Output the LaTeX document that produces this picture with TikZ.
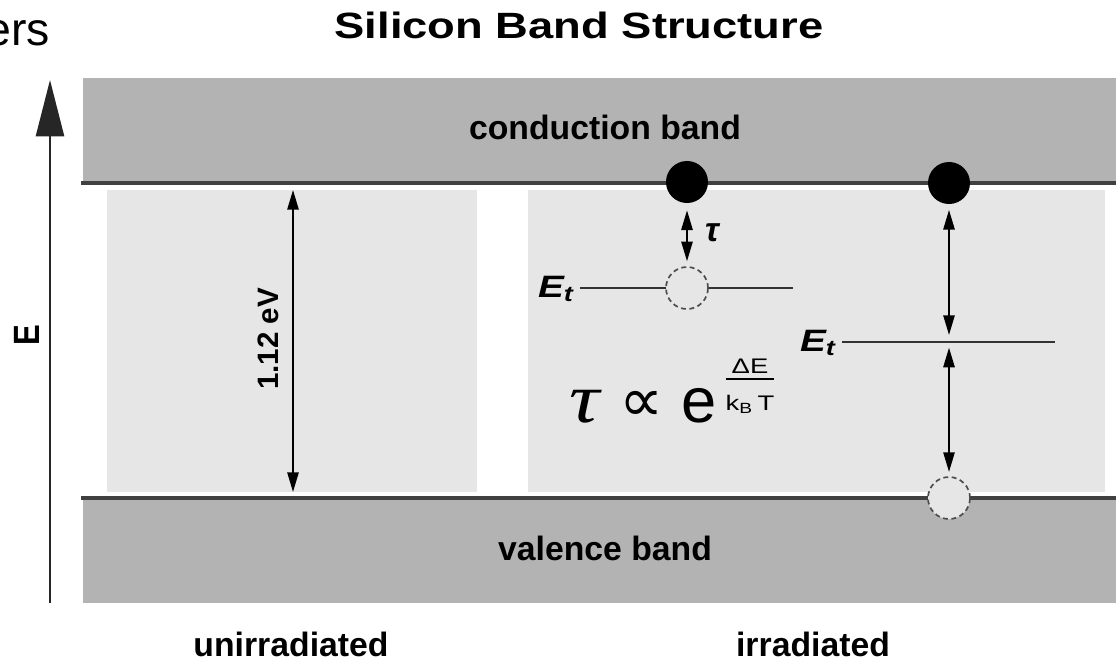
\documentclass[tikz,border=0pt]{standalone}
\usepackage{fontspec}
\setmainfont{Liberation Sans}
\newfontfamily\greekserif{Liberation Serif}
\newfontfamily\symfont{DejaVu Sans}
\definecolor{bandgray}{RGB}{179,179,179}
\definecolor{gapgray}{RGB}{230,230,230}
\definecolor{edgegray}{RGB}{64,64,64}
\usetikzlibrary{arrows.meta}
\tikzset{
  band/.style={fill=bandgray},
  gap/.style={fill=gapgray},
  bandedge/.style={draw=edgegray, line width=2.2pt},
  trapline/.style={draw=black!80, line width=1.1pt},
  electron/.style={circle, fill=black, minimum size=1.05cm, inner sep=0pt},
  hole/.style={circle, draw=black!70, dash pattern=on 3.5pt off 2.5pt, line width=1.2pt,
              fill=gapgray, minimum size=1.05cm, inner sep=0pt},
  hop/.style={{Triangle[length=14pt,width=8pt]}-{Triangle[length=14pt,width=8pt]}, line width=1.4pt},
  axis/.style={-{Triangle[length=40pt,width=20pt]}, line width=1.4pt, black!85},
  lbl/.style={inner sep=0pt, font=\fontsize{24}{28}\selectfont\bfseries},
  trap/.style={inner sep=0pt, font=\fontsize{22}{26}\selectfont\bfseries\itshape},
}

\begin{document}
\begin{tikzpicture}[x=0.025cm, y=-0.025cm]
  \useasboundingbox (0,0) rectangle (1116,664);
  \fill[band] (83,78) rectangle (1116,183);
  \fill[band] (83,498) rectangle (1116,603);
  \fill[gap] (107,190) rectangle (477,492);
  \fill[gap] (528,190) rectangle (1105,492);
  \draw[bandedge] (81,183) -- (1116,183);
  \draw[bandedge] (81,498) -- (1116,498);

  \node[anchor=base east, inner sep=0pt, font=\fontsize{33}{36}\selectfont] (cutoff) at (50,45) {ers};
  \node[lbl, font=\fontsize{26}{30}\selectfont\bfseries, anchor=base] (title) at (579,38) {\scalebox{1.24}[1]{Silicon Band Structure}};
  \node[lbl, anchor=base] (cblbl) at (605,139) {conduction band};
  \node[lbl, anchor=base] (vblbl) at (605,560) {valence band};
  \node[lbl, anchor=base] (unirr) at (291,656) {unirradiated};
  \node[lbl, anchor=base] (irr) at (813,656) {irradiated};

  % energy axis
  \coordinate (Ebot) at (50,603);
  \coordinate (Etop) at (50,80);
  \draw[axis] (Ebot) -- (Etop);
  \node[lbl, font=\fontsize{26}{30}\selectfont\bfseries, rotate=90] (Elbl) at (27,335) {\scalebox{0.85}[1]{E}};

  % band gap
  \coordinate (gaptop) at (293,190);
  \coordinate (gapbot) at (293,492);
  \draw[hop] (gaptop) -- (gapbot);
  \node[lbl, font=\fontsize{21}{25}\selectfont\bfseries, rotate=90] (gaplbl) at (268,339) {1.12 eV};

  % shallow trap
  \coordinate (lvlAw) at (580,288);
  \coordinate (lvlAe) at (793,288);
  \draw[trapline] (lvlAw) -- (lvlAe);
  \node[electron] (eA) at (687,182) {};
  \node[hole] (tA) at (687,288) {};
  \draw[hop, shorten <=5pt, shorten >=3.5pt] (eA) -- (tA);
  \node[trap, anchor=base east] (EtA) at (574,297) {\scalebox{1.25}[1]{E\textsubscript{t}}};
  \node[trap, font=\fontsize{24}{28}\selectfont\bfseries\itshape] (tauA) at (712,233) {τ};

  % deep trap
  \coordinate (lvlBw) at (842,342);
  \coordinate (lvlBe) at (1055,342);
  \draw[trapline] (lvlBw) -- (lvlBe);
  \coordinate (xB) at (949,342);
  \node[electron] (eB) at (949,183) {};
  \node[hole] (hB) at (949,498) {};
  \draw[hop, shorten <=4pt, shorten >=5pt] (eB) -- (xB);
  \draw[hop, shorten <=4pt, shorten >=3pt] (xB) -- (hB);
  \node[trap, anchor=base east] (EtB) at (836,351) {\scalebox{1.25}[1]{E\textsubscript{t}}};

  % emission time
  \node[inner sep=0pt, font=\fontsize{50}{54}\selectfont\greekserif\itshape, anchor=base] (tauB) at (585,422) {\scalebox{1.2}[1]{τ}};
  \node[inner sep=0pt, font=\fontsize{44}{48}\selectfont\symfont, anchor=base] (prop) at (642,421) {∝};
  \node[inner sep=0pt, font=\fontsize{45}{50}\selectfont, anchor=base] (econst) at (699,422) {e};
  \node[inner sep=0pt, font=\fontsize{15}{12}\selectfont, anchor=base] (expo) at (750,373)
    {\setlength\arrayrulewidth{1.2pt}\scalebox{1.3}[1]{\begin{tabular}[t]{@{}c@{}}ΔE\\\hline\rule{0pt}{22pt}k\textsubscript{B}\,T\end{tabular}}};
\end{tikzpicture}
\end{document}
